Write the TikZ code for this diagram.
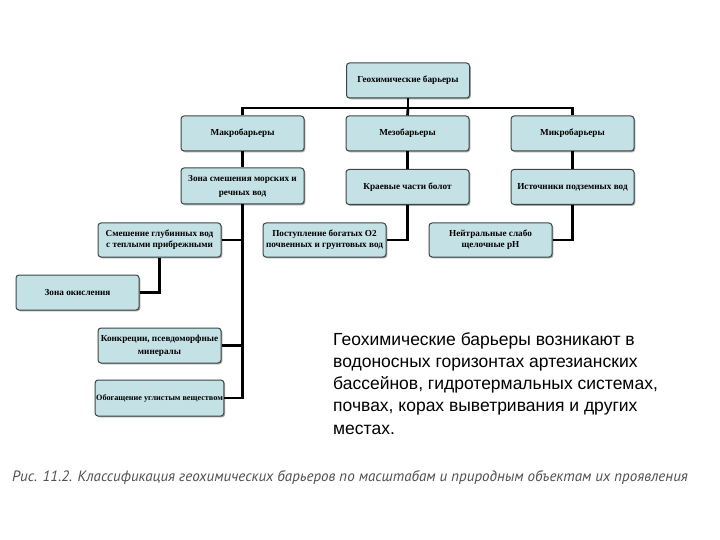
\documentclass[tikz,border=0pt]{standalone}
\usepackage{fontspec}
\setmainfont{Liberation Serif}
\newfontfamily\parafont{Liberation Sans}
\newfontfamily\capfont{PT Sans}
\usetikzlibrary{shadows}
\definecolor{boxfill}{RGB}{196,225,229}
\definecolor{boxline}{RGB}{60,70,70}
\definecolor{capgray}{RGB}{80,80,80}
\tikzset{
  gbox/.style={draw=boxline, line width=1pt, fill=boxfill, rounded corners=3pt,
    minimum width=123pt, minimum height=35pt, inner sep=1pt, align=center,
    font=\bfseries\fontsize{9.2}{11}\selectfont,
    drop shadow={shadow xshift=1.3pt, shadow yshift=-1.3pt, fill=black!50, opacity=0.7}},
  link/.style={line width=2.7pt, black, line cap=butt}
}
\begin{document}
\begin{tikzpicture}[x=1pt,y=-1pt]
\useasboundingbox (0,0) rectangle (720,540);
\fill[white] (0,0) rectangle (720,540);
% boxes
\node[gbox] (top) at (408,80.5) {Геохимические барьеры};
\node[gbox] (m1) at (242.5,133.5) {Макробарьеры};
\node[gbox] (m2) at (407.5,133.5) {Мезобарьеры};
\node[gbox] (m3) at (572.5,133.5) {Микробарьеры};
\node[gbox, minimum height=36pt] (r3a) at (242.5,186) {Зона смешения морских и\\[3pt]речных вод};
\node[gbox] (r3b) at (407.5,187) {Краевые части болот};
\node[gbox] (r3c) at (572.5,187) {Источники подземных вод};
\node[gbox, minimum height=34pt] (r4a) at (159.5,240) {Смешение глубинных вод\\с теплыми прибрежными};
\node[gbox, minimum height=34pt] (r4b) at (324.5,240) {Поступление богатых О2\\почвенных и грунтовых вод};
\node[gbox, minimum height=34pt] (r4c) at (490.5,240) {Нейтральные слабо\\щелочные pH};
\node[gbox] (z) at (77.5,292.5) {Зона окисления};
\node[gbox] (k) at (159.5,345.5) {Конкреции, псевдоморфные\\[2pt]минералы};
\node[gbox, minimum height=36pt, font=\bfseries\fontsize{8.2}{10}\selectfont] (o) at (159.5,398) {Обогащение углистым веществом};
% connectors
\coordinate (bus) at (408,108);
\draw[link] (top.south) -- (bus);
\draw[link] (m1.north) -- (m1.north |- bus) -- (m3.north |- bus) -- (m3.north);
\draw[link] (bus) -- (m2.north);
\draw[link] (m1.south) -- (r3a.north);
\draw[link] (m2.south) -- (r3b.north);
\draw[link] (m3.south) -- (r3c.north);
\draw[link] (r3a.south) -- (r3a.south |- o.east) -- (o.east);
\draw[link] (r4a.east) -- (r4a.east -| r3a.south);
\draw[link] (k.east) -- (k.east -| r3a.south);
\draw[link] (r4a.south) |- (z.east);
\draw[link] (r3b.south) |- (r4b.east);
\draw[link] (r3c.south) |- (r4c.east);
% paragraph
\node[anchor=north west, align=left, inner sep=0pt, font=\parafont\fontsize{17.5}{22.3}\selectfont] (para) at (333,332)
{Геохимические барьеры возникают в\\водоносных горизонтах артезианских\\бассейнов, гидротермальных системах,\\почвах, корах выветривания и других\\местах.};
% caption
\node[anchor=west, inner sep=0pt, text=capgray, font=\capfont\itshape\fontsize{15}{17}\selectfont] (cap) at (12,478)
{Рис. 11.2. Классификация геохимических барьеров по масштабам и природным объектам их проявления};
\end{tikzpicture}
\end{document}
